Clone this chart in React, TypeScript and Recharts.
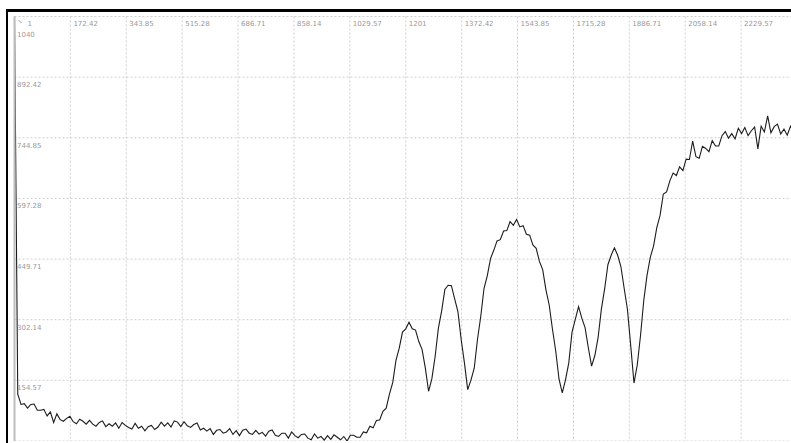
import { CartesianGrid, Line, LineChart, XAxis, YAxis } from "recharts";

// sampling grid of the spectrum (x starts at 1, one sample every 10 units)
const X_START = 1;
const X_STEP = 10;

// flat, slowly falling baseline (x = 1 .. 1101)
const baseline = [
  1040, 121, 96, 98, 87, 96, 97, 82, 82, 84, 68, 78, 52, 73, 59, 55, 62, 67, 54, 49,
  60, 55, 48, 57, 48, 43, 52, 56, 42, 49, 43, 51, 38, 52, 45, 40, 36, 50, 38, 43,
  32, 42, 45, 35, 41, 53, 43, 51, 41, 56, 53, 42, 54, 44, 40, 47, 51, 34, 38, 31,
  37, 23, 33, 35, 26, 29, 37, 23, 32, 20, 33, 36, 26, 23, 33, 24, 28, 19, 31, 34,
  21, 18, 26, 26, 14, 29, 20, 15, 23, 24, 14, 10, 24, 14, 18, 9, 20, 11, 22, 16,
  10, 18, 7, 21, 21, 16, 16, 29, 27, 43, 39,
];

// absorption bands (x = 1111 .. 1961)
const bands = [
  57, 58, 79, 87, 121, 149, 203, 233, 272, 280, 296, 280, 277, 249, 230, 185, 128, 158, 212, 281,
  323, 376, 386, 385, 353, 322, 254, 197, 132, 155, 184, 254, 310, 378, 409, 451, 471, 494, 497, 518,
  519, 541, 532, 546, 528, 531, 510, 508, 484, 476, 444, 424, 375, 338, 279, 226, 158, 124, 156, 197,
  272, 303, 334, 306, 283, 234, 189, 215, 259, 328, 377, 436, 459, 477, 459, 431, 378, 327, 239, 148,
  192, 263, 349, 410, 454, 481,
];

// rising edge and plateau (x = 1971 .. 2401)
const plateau = [
  526, 556, 608, 613, 640, 659, 653, 674, 665, 693, 692, 737, 699, 695, 724, 719, 711, 738, 725, 725,
  750, 760, 744, 755, 742, 768, 755, 770, 750, 762, 771, 718, 773, 759, 798, 757, 772, 778, 754, 766,
  751, 773, 759, 769,
];

const intensity = [...baseline, ...bands, ...plateau];

const xTicks = [1, 172.42, 343.85, 515.28, 686.71, 858.14, 1029.57, 1201, 1372.42, 1543.85, 1715.28, 1886.71, 2058.14, 2229.57, 2401];
const yTicks = [7, 154.57, 302.14, 449.71, 597.28, 744.85, 892.42, 1040];

const rows = intensity.map((y, i) => ({ x: X_START + i * X_STEP, y }));

const LABEL_FONT = { fontFamily: "DejaVu Sans", fontSize: 7, fill: "#999" };

function XTick(props: any) {
  const { x, payload } = props;
  // last gridline lies past the visible edge, no label there
  if (payload.value === 2401) return <g />;
  if (payload.value === 1) {
    return (
      <g>
        <line x1={x + 4} y1={20} x2={x + 7} y2={23} stroke="#a0a0a0" />
        <text x={x + 13} y={26} {...LABEL_FONT}>1</text>
      </g>
    );
  }
  return (
    <text x={x + 3} y={26} {...LABEL_FONT}>
      {payload.value}
    </text>
  );
}

function YTick(props: any) {
  const { y, payload } = props;
  if (payload.value === 7) return <g />;
  const top = payload.value === 1040;
  return (
    <text x={17} y={y + (top ? 20 : 10)} {...LABEL_FONT}>
      {payload.value}
    </text>
  );
}

export default function App() {
  return (
    <div style={{ position: "absolute", left: 0, top: 0, width: 791, height: 443, overflow: "hidden", background: "#fff" }}>
      <div
        style={{
          position: "absolute",
          left: 6,
          top: 9,
          width: 900,
          height: 500,
          borderTop: "3px solid #000",
          borderLeft: "2px solid #000",
        }}
      />
      <div style={{ position: "absolute", left: 0, top: 0 }}>
        <LineChart width={797} height={441} data={rows} margin={{ top: 6.5, left: 4.5, right: 0, bottom: 0 }}>
          <CartesianGrid stroke="#cfcfcf" strokeDasharray="2 2" />
          <XAxis
            type="number"
            dataKey="x"
            domain={[1, 2401]}
            ticks={xTicks}
            interval={0}
            orientation="top"
            height={10}
            axisLine={false}
            tickLine={false}
            tick={XTick}
            allowDataOverflow
          />
          <YAxis
            type="number"
            domain={[7, 1040]}
            ticks={yTicks}
            interval={0}
            width={10}
            axisLine={{ stroke: "#bdbdbd", strokeWidth: 2 }}
            tickLine={false}
            tick={YTick}
            allowDataOverflow
          />
          <Line type="linear" dataKey="y" stroke="#1c1c1c" strokeWidth={1.1} dot={false} isAnimationActive={false} />
        </LineChart>
      </div>
    </div>
  );
}
